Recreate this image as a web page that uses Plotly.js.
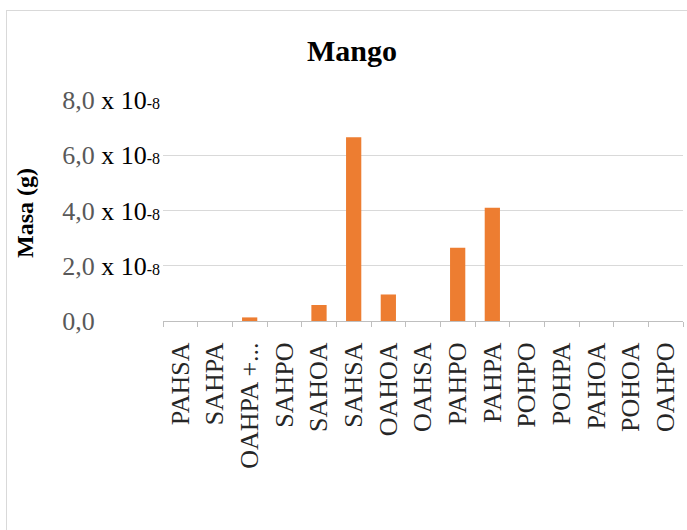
<!DOCTYPE html>
<html><head><meta charset="utf-8">
<script src="https://cdn.plot.ly/plotly-3.0.1.min.js"></script>
<style>html,body{margin:0;padding:0;background:#fff;}#wrap{position:relative;width:687px;height:530px;}
#frame{position:absolute;left:6px;top:10px;width:700px;height:540px;border:1px solid #d9d9d9;box-sizing:border-box;pointer-events:none;}
#chart{position:absolute;left:0;top:0;width:687px;height:530px;}</style>
</head><body>
<div id="wrap"><div id="chart"></div><div id="frame"></div></div>
<script>
const categories = ["PAHSA","SAHPA","OAHPA +...","SAHPO","SAHOA","SAHSA","OAHOA","OAHSA","PAHPO","PAHPA","POHPO","POHPA","PAHOA","POHOA","OAHPO"];
const mass = [0, 0, 0.13, 0, 0.58, 6.65, 0.96, 0, 2.65, 4.1, 0, 0, 0, 0, 0]; // x 10^-8 g
const tickVals = [0, 2, 4, 6, 8];
const tickMant = ["0,0", "2,0", "4,0", "6,0", "8,0"];
const clear = 'rgba(0,0,0,0)';
const tickText = tickMant.map((m, i) => {
  const c = i === 0 ? clear : '#000';
  return "<span style='color:#595959'>" + m + "</span><span style='color:" + c + "'> x 10</span><span style='font-size:16px;color:" + c + "'>-8</span>";
});

const trace = {
  type: 'bar', x: categories, y: mass,
  marker: {color: '#ED7D31', line: {width: 0}},
  hoverinfo: 'skip'
};
const layout = {
  width: 687, height: 530,
  margin: {l: 163, r: 4, t: 100, b: 209},
  paper_bgcolor: '#fff', plot_bgcolor: '#fff',
  font: {family: 'Liberation Serif, Times New Roman, serif', color: '#404040'},
  title: {text: '<b>Mango</b>', font: {size: 30, color: '#000', family: 'Liberation Serif, serif'},
          x: 352/687, xref: 'container', xanchor: 'center', y: 1 - 50/530, yref: 'container', yanchor: 'middle'},
  bargap: 0.56,
  showlegend: false,
  xaxis: {
    type: 'category', tickangle: -90, tickson: 'boundaries', ticks: 'outside', ticklen: 5,
    tickcolor: '#bfbfbf', showline: true, linecolor: '#bfbfbf', linewidth: 1,
    showgrid: false, zeroline: false, ticklabelstandoff: 10,
    tickfont: {size: 26, color: '#262626', family: 'Liberation Serif, serif'}
  },
  yaxis: {
    range: [0, 8], tickvals: tickVals, ticktext: tickText, ticks: '', showline: false,
    showgrid: true, gridcolor: '#d9d9d9', gridwidth: 1, zeroline: false,
    tickfont: {size: 26, color: '#000', family: 'Liberation Serif, serif'}, ticklabelstandoff: 2
  },
  annotations: [{
    text: '<b>Masa (g)</b>', textangle: -90, showarrow: false,
    xref: 'paper', yref: 'paper', x: (25 - 163) / 520, y: (321 - 213) / 221,
    xanchor: 'center', yanchor: 'middle',
    font: {size: 24, color: '#000', family: 'Liberation Serif, serif'}
  }]
};
Plotly.newPlot('chart', [trace], layout, {displayModeBar: false, staticPlot: true});
</script>
</body></html>
